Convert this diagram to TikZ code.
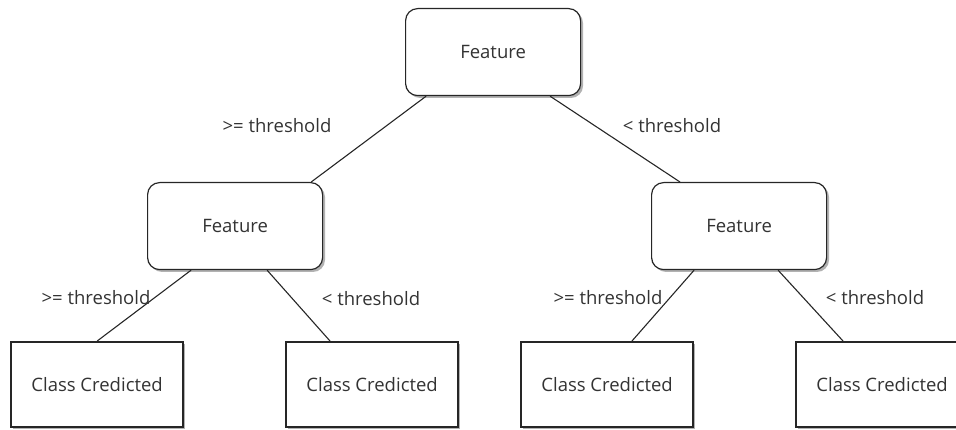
\documentclass[tikz,border=0pt]{standalone}
\usepackage{fontspec}
\setmainfont{Open Sans}
\begin{document}
\begin{tikzpicture}[x=1pt,y=-1pt,
  txt/.style={font=\fontsize{18.5}{21}\selectfont, text=black!80},
  feat/.style={draw=black!85, line width=1.2pt, fill=white, rounded corners=12pt,
    minimum width=175pt, minimum height=87pt, anchor=north west, txt},
  leaf/.style={draw=black!85, line width=2.2pt, fill=white,
    minimum width=172pt, minimum height=85pt, anchor=north west, txt},
  featshadow/.style={fill=black!30, rounded corners=12pt},
  leafshadow/.style={fill=black!30},
  edge/.style={draw=black!85, line width=1.1pt},
  lbl/.style={txt}]
\useasboundingbox (0,0) rectangle (956,430);
\clip (0,0) rectangle (956,430);

% soft shadows under the boxes
\path[featshadow] (408,11) rectangle ++(175,87);
\path[featshadow] (150,185) rectangle ++(175,87);
\path[featshadow] (654,185) rectangle ++(175,87);
\path[leafshadow] (13,344) rectangle ++(172,85);
\path[leafshadow] (288,344) rectangle ++(172,85);
\path[leafshadow] (523,344) rectangle ++(172,85);
\path[leafshadow] (798,344) rectangle ++(172,85);

% tree nodes
\node[feat] (root) at (405,8) {Feature};
\node[feat] (fl) at (147,182) {Feature};
\node[feat] (fr) at (651,182) {Feature};
\node[leaf] (l1) at (10,341) {Class Credicted};
\node[leaf] (l2) at (285,341) {Class Credicted};
\node[leaf] (l3) at (520,341) {Class Credicted};
\node[leaf] (l4) at (795,341) {Class Credicted};

% connectors
\draw[edge] ([xshift=-67pt]root.south) -- ([xshift=-12pt]fl.north east);
\draw[edge] ([xshift=57pt]root.south) -- ([xshift=29pt]fr.north west);
\draw[edge] ([xshift=-44pt]fl.south) -- ([xshift=-87pt]l1.north east);
\draw[edge] ([xshift=32pt]fl.south) -- ([xshift=45pt]l2.north west);
\draw[edge] ([xshift=-45pt]fr.south) -- ([xshift=112pt]l3.north west);
\draw[edge] ([xshift=39pt]fr.south) -- ([xshift=48pt]l4.north west);

% branch labels
\node[lbl] (t1) at (277,126) {>= threshold};
\node[lbl] (t2) at (672,126) {< threshold};
\node[lbl] (t3) at (96,298) {>= threshold};
\node[lbl] (t4) at (371,299) {< threshold};
\node[lbl] (t5) at (608,298) {>= threshold};
\node[lbl] (t6) at (875,298) {< threshold};
\end{tikzpicture}
\end{document}
